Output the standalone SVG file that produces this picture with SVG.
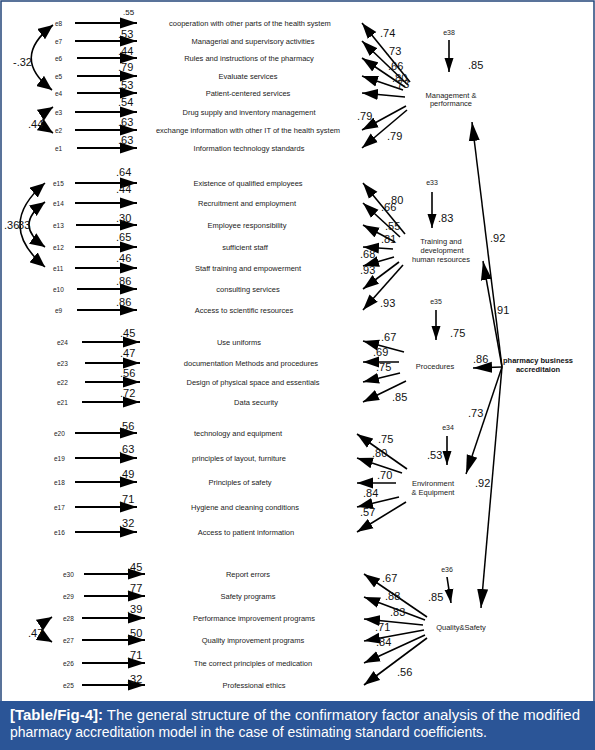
<svg xmlns="http://www.w3.org/2000/svg" width="595" height="750" viewBox="0 0 595 750">
<style>
.it{font-family:"Liberation Sans",Arial,sans-serif;font-size:7.5px;fill:#222;text-anchor:middle}
.ev{font-family:"Liberation Sans",Arial,sans-serif;font-size:6.5px;fill:#222}
.evr{font-family:"Liberation Sans",Arial,sans-serif;font-size:7px;fill:#222;text-anchor:middle}
.cf{font-family:"Liberation Sans",Arial,sans-serif;font-size:11px;fill:#111}
.fc{font-family:"Liberation Sans",Arial,sans-serif;font-size:7.5px;fill:#222;text-anchor:middle}
.fb{font-family:"Liberation Sans",Arial,sans-serif;font-size:7.5px;font-weight:bold;fill:#111;text-anchor:middle}
.cap{font-family:"Liberation Sans",Arial,sans-serif;font-size:14px;fill:#fff}
.ia{stroke:#000;stroke-width:2;fill:none;marker-end:url(#ah)}
.fa{stroke:#000;stroke-width:1.6;fill:none;marker-end:url(#ah2)}
.ea{stroke:#000;stroke-width:1.6;fill:none;marker-end:url(#ahe)}
.pa{stroke:#000;stroke-width:1.5;fill:none;marker-end:url(#ahf)}
.cv{stroke:#000;stroke-width:1.6;fill:none;marker-start:url(#ahc);marker-end:url(#ahc)}
</style>
<defs>
<marker id="ah" markerUnits="userSpaceOnUse" viewBox="0 0 18 12" markerWidth="18" markerHeight="12" refX="17" refY="6" orient="auto"><path d="M0,0.5 L17,6 L0,11.5 z" fill="#000"/></marker>
<marker id="ah2" markerUnits="userSpaceOnUse" viewBox="0 0 17 12" markerWidth="17" markerHeight="12" refX="16" refY="6" orient="auto"><path d="M0,0.5 L16,6 L0,11.5 z" fill="#000"/></marker>
<marker id="ahe" markerUnits="userSpaceOnUse" viewBox="0 0 15 10" markerWidth="15" markerHeight="10" refX="14" refY="5" orient="auto"><path d="M0,0.5 L14,5 L0,9.5 z" fill="#000"/></marker>
<marker id="ahf" markerUnits="userSpaceOnUse" viewBox="0 0 20 12" markerWidth="20" markerHeight="12" refX="19" refY="6" orient="auto"><path d="M0,0.5 L19,6 L0,11.5 z" fill="#000"/></marker>
<marker id="ahc" markerUnits="userSpaceOnUse" viewBox="0 0 16 13" markerWidth="16" markerHeight="13" refX="15" refY="6.5" orient="auto-start-reverse"><path d="M0,0 L15,6.5 L0,13 z" fill="#000"/></marker>
</defs>
<rect x="0" y="0" width="595" height="750" fill="#fff"/>
<rect x="1" y="1" width="593" height="748" fill="none" stroke="#23457a" stroke-width="1.5"/>

<g id="connectors">
<!-- block 1 item arrows -->
<line class="ia" x1="75" y1="23" x2="137" y2="23"/>
<line class="ia" x1="75" y1="41" x2="137" y2="41"/>
<line class="ia" x1="77" y1="58" x2="137" y2="58"/>
<line class="ia" x1="77" y1="76" x2="137" y2="76"/>
<line class="ia" x1="77" y1="93" x2="137" y2="93"/>
<line class="ia" x1="75" y1="112" x2="137" y2="112"/>
<line class="ia" x1="75" y1="130" x2="137" y2="130"/>
<line class="ia" x1="77" y1="148" x2="137" y2="148"/>
<!-- block 2 -->
<line class="ia" x1="75" y1="183" x2="137" y2="183"/>
<line class="ia" x1="75" y1="203" x2="137" y2="203"/>
<line class="ia" x1="76" y1="225" x2="137" y2="225"/>
<line class="ia" x1="75" y1="247" x2="137" y2="247"/>
<line class="ia" x1="75" y1="268" x2="137" y2="268"/>
<line class="ia" x1="77" y1="289" x2="137" y2="289"/>
<line class="ia" x1="77" y1="310" x2="137" y2="310"/>
<!-- block 3 -->
<line class="ia" x1="82" y1="342" x2="140" y2="342"/>
<line class="ia" x1="85" y1="363" x2="140" y2="363"/>
<line class="ia" x1="85" y1="382" x2="140" y2="382"/>
<line class="ia" x1="82" y1="402" x2="140" y2="402"/>
<!-- block 4 -->
<line class="ia" x1="75" y1="433" x2="137" y2="433"/>
<line class="ia" x1="75" y1="458" x2="137" y2="458"/>
<line class="ia" x1="75" y1="482" x2="137" y2="482"/>
<line class="ia" x1="75" y1="507" x2="137" y2="507"/>
<line class="ia" x1="75" y1="532" x2="137" y2="532"/>
<!-- block 5 -->
<line class="ia" x1="84" y1="574" x2="145" y2="574"/>
<line class="ia" x1="84" y1="596" x2="145" y2="596"/>
<line class="ia" x1="82" y1="618" x2="145" y2="618"/>
<line class="ia" x1="82" y1="640" x2="145" y2="640"/>
<line class="ia" x1="82" y1="663" x2="145" y2="663"/>
<line class="ia" x1="82" y1="685" x2="145" y2="685"/>

<!-- covariances -->
<path class="cv" d="M53,25 Q10,58 52,90"/>
<path class="cv" d="M53,107 Q33,120 53,133"/>
<path class="cv" d="M45,183 Q-5,225 45,267"/>
<path class="cv" d="M45,202 Q13,225 45,247"/>
<path class="cv" d="M52,617 Q32,630 52,642"/>

<!-- block 1 fan -->
<line class="fa" x1="410" y1="82" x2="362" y2="23"/>
<line class="fa" x1="408" y1="85" x2="362" y2="41"/>
<line class="fa" x1="405" y1="87" x2="362" y2="58"/>
<line class="fa" x1="403" y1="90" x2="362" y2="76"/>
<line class="fa" x1="405" y1="97" x2="362" y2="93"/>
<line class="fa" x1="406" y1="106" x2="362" y2="130"/>
<line class="fa" x1="407" y1="110" x2="362" y2="148"/>
<!-- block 2 fan -->
<line class="fa" x1="405" y1="234" x2="363" y2="183"/>
<line class="fa" x1="400" y1="237" x2="363" y2="203"/>
<line class="fa" x1="395" y1="242" x2="363" y2="225"/>
<line class="fa" x1="393" y1="249" x2="363" y2="247"/>
<line class="fa" x1="394" y1="257" x2="363" y2="266"/>
<line class="fa" x1="399" y1="262" x2="363" y2="289"/>
<line class="fa" x1="403" y1="265" x2="363" y2="310"/>
<!-- block 3 fan -->
<line class="fa" x1="404" y1="352" x2="363" y2="341"/>
<line class="fa" x1="399" y1="362" x2="363" y2="362"/>
<line class="fa" x1="400" y1="373" x2="363" y2="382"/>
<line class="fa" x1="406" y1="381" x2="363" y2="402"/>
<!-- block 4 fan -->
<line class="fa" x1="407" y1="469" x2="357" y2="434"/>
<line class="fa" x1="402" y1="473" x2="357" y2="458"/>
<line class="fa" x1="396" y1="483" x2="357" y2="483"/>
<line class="fa" x1="399" y1="497" x2="357" y2="507"/>
<line class="fa" x1="406" y1="502" x2="357" y2="532"/>
<!-- block 5 fan -->
<line class="fa" x1="427" y1="617" x2="364" y2="574"/>
<line class="fa" x1="425" y1="620" x2="364" y2="597"/>
<line class="fa" x1="423" y1="625" x2="364" y2="619"/>
<line class="fa" x1="424" y1="630" x2="364" y2="641"/>
<line class="fa" x1="425" y1="635" x2="364" y2="663"/>
<line class="fa" x1="427" y1="638" x2="364" y2="685"/>

<!-- disturbance arrows -->
<line class="ea" x1="449" y1="40" x2="449" y2="72"/>
<line class="ea" x1="432" y1="192" x2="432" y2="228"/>
<line class="ea" x1="436" y1="310" x2="436" y2="340"/>
<line class="ea" x1="447" y1="436" x2="447" y2="465"/>
<line class="ea" x1="447" y1="577" x2="451" y2="603"/>

<!-- second-order arrows -->
<line class="pa" x1="502" y1="367" x2="472" y2="122"/>
<line class="pa" x1="502" y1="367" x2="483" y2="261"/>
<line class="pa" x1="502" y1="367" x2="473" y2="368"/>
<line class="pa" x1="502" y1="367" x2="466" y2="474"/>
<line class="pa" x1="502" y1="367" x2="481" y2="608"/>

<!-- coefficient labels -->
<text class="cf" x="123" y="15" style="font-size:8px">.55</text>
<text class="cf" x="118" y="38">.53</text>
<text class="cf" x="118" y="55">.44</text>
<text class="cf" x="118" y="71">.79</text>
<text class="cf" x="118" y="89">.53</text>
<text class="cf" x="118" y="106">.54</text>
<text class="cf" x="118" y="126">.63</text>
<text class="cf" x="118" y="144">.63</text>
<text class="cf" x="116" y="176">.64</text>
<text class="cf" x="116" y="193">.44</text>
<text class="cf" x="116" y="222">.30</text>
<text class="cf" x="116" y="241">.65</text>
<text class="cf" x="116" y="262">.46</text>
<text class="cf" x="116" y="285">.86</text>
<text class="cf" x="116" y="306">.86</text>
<text class="cf" x="120" y="337">.45</text>
<text class="cf" x="120" y="357">.47</text>
<text class="cf" x="120" y="377">.56</text>
<text class="cf" x="120" y="397">.72</text>
<text class="cf" x="119" y="430">.56</text>
<text class="cf" x="119" y="453">.63</text>
<text class="cf" x="119" y="478">.49</text>
<text class="cf" x="119" y="503">.71</text>
<text class="cf" x="119" y="527">.32</text>
<text class="cf" x="127" y="571">.45</text>
<text class="cf" x="127" y="592">.77</text>
<text class="cf" x="127" y="613">.39</text>
<text class="cf" x="127" y="637">.50</text>
<text class="cf" x="127" y="659">.71</text>
<text class="cf" x="127" y="683">.32</text>

<text class="cf" x="13" y="66">-.32</text>
<text class="cf" x="28" y="128">.44</text>
<text class="cf" x="4" y="229">.36</text>
<text class="cf" x="15" y="229">.33</text>
<text class="cf" x="28" y="637">.47</text>

<text class="cf" x="380" y="37">.74</text>
<text class="cf" x="386" y="55">.73</text>
<text class="cf" x="388" y="70">.66</text>
<text class="cf" x="392" y="82">.80</text>
<text class="cf" x="394" y="88">.73</text>
<text class="cf" x="357" y="120">.79</text>
<text class="cf" x="387" y="140">.79</text>
<text class="cf" x="468" y="69">.85</text>

<text class="cf" x="388" y="204">.80</text>
<text class="cf" x="381" y="211">.66</text>
<text class="cf" x="385" y="230">.55</text>
<text class="cf" x="381" y="243">.81</text>
<text class="cf" x="360" y="258">.68</text>
<text class="cf" x="360" y="274">.93</text>
<text class="cf" x="380" y="307">.93</text>
<text class="cf" x="438" y="222">.83</text>

<text class="cf" x="381" y="341">.67</text>
<text class="cf" x="373" y="356">.69</text>
<text class="cf" x="376" y="371">.75</text>
<text class="cf" x="392" y="401">.85</text>
<text class="cf" x="450" y="337">.75</text>

<text class="cf" x="378" y="443">.75</text>
<text class="cf" x="372" y="457">.80</text>
<text class="cf" x="377" y="479">.70</text>
<text class="cf" x="363" y="497">.84</text>
<text class="cf" x="360" y="516">.57</text>
<text class="cf" x="427" y="459">.53</text>

<text class="cf" x="382" y="582">.67</text>
<text class="cf" x="385" y="600">.88</text>
<text class="cf" x="390" y="616">.83</text>
<text class="cf" x="375" y="631">.71</text>
<text class="cf" x="376" y="646">.84</text>
<text class="cf" x="397" y="676">.56</text>
<text class="cf" x="428" y="601">.85</text>

<text class="cf" x="490" y="242">.92</text>
<text class="cf" x="494" y="314">.91</text>
<text class="cf" x="473" y="363">.86</text>
<text class="cf" x="468" y="417">.73</text>
<text class="cf" x="475" y="487">.92</text>
</g>

<!-- error terms -->
<g id="e8"><text class="ev" x="55" y="25.5">e8</text></g>
<g id="e7"><text class="ev" x="55" y="43.5">e7</text></g>
<g id="e6"><text class="ev" x="55" y="60.5">e6</text></g>
<g id="e5"><text class="ev" x="55" y="78.5">e5</text></g>
<g id="e4"><text class="ev" x="55" y="95.5">e4</text></g>
<g id="e3"><text class="ev" x="55" y="114.5">e3</text></g>
<g id="e2"><text class="ev" x="55" y="132.5">e2</text></g>
<g id="e1"><text class="ev" x="55" y="150.5">e1</text></g>
<g id="e15"><text class="ev" x="53" y="185.5">e15</text></g>
<g id="e14"><text class="ev" x="53" y="205.5">e14</text></g>
<g id="e13"><text class="ev" x="53" y="227.5">e13</text></g>
<g id="e12"><text class="ev" x="53" y="249.5">e12</text></g>
<g id="e11"><text class="ev" x="53" y="270.5">e11</text></g>
<g id="e10"><text class="ev" x="53" y="291.5">e10</text></g>
<g id="e9"><text class="ev" x="55" y="312.5">e9</text></g>
<g id="e24"><text class="ev" x="57" y="344.5">e24</text></g>
<g id="e23"><text class="ev" x="57" y="365.5">e23</text></g>
<g id="e22"><text class="ev" x="57" y="384.5">e22</text></g>
<g id="e21"><text class="ev" x="57" y="404.5">e21</text></g>
<g id="e20"><text class="ev" x="54" y="435.5">e20</text></g>
<g id="e19"><text class="ev" x="54" y="460.5">e19</text></g>
<g id="e18"><text class="ev" x="54" y="484.5">e18</text></g>
<g id="e17"><text class="ev" x="54" y="509.5">e17</text></g>
<g id="e16"><text class="ev" x="54" y="534.5">e16</text></g>
<g id="e30"><text class="ev" x="63" y="576.5">e30</text></g>
<g id="e29"><text class="ev" x="63" y="598.5">e29</text></g>
<g id="e28"><text class="ev" x="63" y="620.5">e28</text></g>
<g id="e27"><text class="ev" x="63" y="642.5">e27</text></g>
<g id="e26"><text class="ev" x="63" y="665.5">e26</text></g>
<g id="e25"><text class="ev" x="63" y="687.5">e25</text></g>

<!-- items -->
<g id="item-e8"><text class="it" x="250" y="25.5">cooperation with other parts of the health system</text></g>
<g id="item-e7"><text class="it" x="253" y="43.5">Managerial and supervisory activities</text></g>
<g id="item-e6"><text class="it" x="249" y="60.5">Rules and instructions of the pharmacy</text></g>
<g id="item-e5"><text class="it" x="248" y="78.5">Evaluate services</text></g>
<g id="item-e4"><text class="it" x="248" y="95.5">Patient-centered services</text></g>
<g id="item-e3"><text class="it" x="249" y="114.5">Drug supply and inventory management</text></g>
<g id="item-e2"><text class="it" x="248" y="132.5">exchange information with other IT of the health system</text></g>
<g id="item-e1"><text class="it" x="249" y="150.5">Information technology standards</text></g>
<g id="item-e15"><text class="it" x="248" y="185.5">Existence of qualified employees</text></g>
<g id="item-e14"><text class="it" x="247" y="205.5">Recruitment and employment</text></g>
<g id="item-e13"><text class="it" x="247" y="227.5">Employee responsibility</text></g>
<g id="item-e12"><text class="it" x="245" y="249.5">sufficient staff</text></g>
<g id="item-e11"><text class="it" x="248" y="270.5">Staff training and empowerment</text></g>
<g id="item-e10"><text class="it" x="248" y="291.5">consulting services</text></g>
<g id="item-e9"><text class="it" x="244" y="312.5">Access to  scientific resources</text></g>
<g id="item-e24"><text class="it" x="239" y="344.5">Use uniforms</text></g>
<g id="item-e23"><text class="it" x="251" y="365.5">documentation Methods and procedures</text></g>
<g id="item-e22"><text class="it" x="253" y="384.5">Design of physical space and essentials</text></g>
<g id="item-e21"><text class="it" x="256" y="404.5">Data security</text></g>
<g id="item-e20"><text class="it" x="238" y="435.5">technology and equipment</text></g>
<g id="item-e19"><text class="it" x="239" y="460.5">principles of layout, furniture</text></g>
<g id="item-e18"><text class="it" x="240" y="484.5">Principles of safety</text></g>
<g id="item-e17"><text class="it" x="245" y="509.5">Hygiene and cleaning conditions</text></g>
<g id="item-e16"><text class="it" x="246" y="534.5">Access to patient information</text></g>
<g id="item-e30"><text class="it" x="248" y="576.5">Report errors</text></g>
<g id="item-e29"><text class="it" x="248" y="598.5">Safety programs</text></g>
<g id="item-e28"><text class="it" x="254" y="620.5">Performance improvement programs</text></g>
<g id="item-e27"><text class="it" x="253" y="642.5">Quality improvement programs</text></g>
<g id="item-e26"><text class="it" x="253" y="665.5">The correct principles of medication</text></g>
<g id="item-e25"><text class="it" x="254" y="687.5">Professional ethics</text></g>

<!-- factors -->
<g id="e38"><text class="evr" x="449" y="35">e38</text></g>
<g id="e33"><text class="evr" x="432" y="185">e33</text></g>
<g id="e35"><text class="evr" x="436" y="304">e35</text></g>
<g id="e34"><text class="evr" x="448" y="430">e34</text></g>
<g id="e36"><text class="evr" x="447" y="572">e36</text></g>
<g id="management"><text class="fc" x="451" y="97.5">Management &amp;</text><text class="fc" x="451" y="106">performance</text></g>
<g id="training"><text class="fc" x="441" y="244">Training and</text><text class="fc" x="442" y="253">development</text><text class="fc" x="441" y="261.5">human resources</text></g>
<g id="procedures"><text class="fc" x="435" y="368.5">Procedures</text></g>
<g id="environment"><text class="fc" x="433" y="485.5">Environment</text><text class="fc" x="433" y="494.5">&amp; Equipment</text></g>
<g id="quality"><text class="fc" x="461" y="630">Quality&amp;Safety</text></g>
<g id="accreditation"><text class="fb" x="538" y="363">pharmacy business</text><text class="fb" x="538" y="372">accreditaion</text></g>

<g id="caption">
<rect x="0" y="701" width="595" height="49" fill="#2b5597"/>
<text class="cap" x="10" y="720" textLength="570" lengthAdjust="spacingAndGlyphs"><tspan font-weight="bold">[Table/Fig-4]:</tspan> The general structure of the confirmatory factor analysis of the modified</text>
<text class="cap" x="10" y="737" textLength="477" lengthAdjust="spacingAndGlyphs">pharmacy accreditation model in the case of estimating standard coefficients.</text>
</g>
</svg>
